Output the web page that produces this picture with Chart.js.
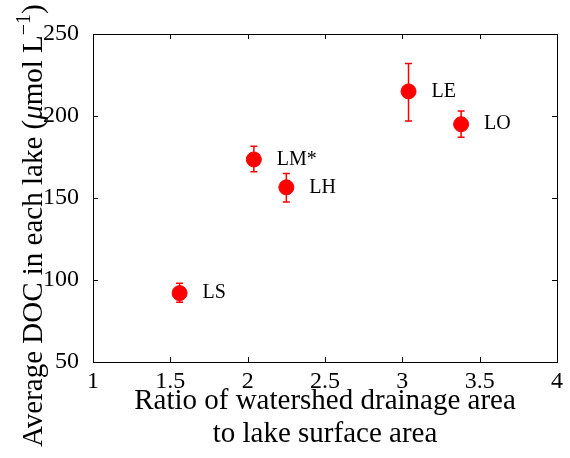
<!DOCTYPE html>
<html>
<head>
<meta charset="utf-8">
<script src="https://cdn.jsdelivr.net/npm/chart.js@4"></script>
<style>
  html, body { margin: 0; padding: 0; background: #fff; }
  #wrap { width: 570px; height: 458px; }
</style>
</head>
<body>
<div id="wrap"><canvas id="chart"></canvas></div>
<script>
// lake names and values
const lakes = ['LS', 'LM*', 'LH', 'LE', 'LO'];
const ratio = [1.56, 2.04, 2.25, 3.04, 3.38];
const doc = [92, 173.5, 156.5, 215, 195];
const docLow = [86.5, 166, 147.5, 197, 187];
const docHigh = [98, 181.5, 165, 232, 203];
const xTicks = [1, 1.5, 2, 2.5, 3, 3.5, 4];
const yTicks = [50, 100, 150, 200, 250];

const serif = "'Liberation Serif', 'DejaVu Serif', serif";

// frame and inward ticks, like the matlab box
const framePlugin = {
    id: 'frame',
    afterDraw(chart) {
        const { ctx, chartArea: a, scales } = chart;
        ctx.save();
        ctx.strokeStyle = '#000';
        ctx.lineWidth = 1;
        ctx.strokeRect(a.left + 0.5, a.top + 0.5, a.right - a.left, a.bottom - a.top);
        const len = 5;
        ctx.beginPath();
        xTicks.forEach(v => {
            const x = Math.round(scales.x.getPixelForValue(v)) + 0.5;
            ctx.moveTo(x, a.bottom); ctx.lineTo(x, a.bottom - len);
            ctx.moveTo(x, a.top); ctx.lineTo(x, a.top + len);
        });
        yTicks.forEach(v => {
            const y = Math.round(scales.y.getPixelForValue(v)) + 0.5;
            ctx.moveTo(a.left, y); ctx.lineTo(a.left + len, y);
            ctx.moveTo(a.right, y); ctx.lineTo(a.right - len, y);
        });
        ctx.stroke();
        ctx.restore();
    }
};

// y title with italic mu and superscript, drawn by hand
const yTitlePlugin = {
    id: 'yTitle',
    afterDraw(chart) {
        const ctx = chart.ctx;
        const parts = [
            { t: 'Average DOC in each lake (', f: '29px ' + serif, dy: 0 },
            { t: '\u03bc', f: 'italic 29px ' + serif, dy: 0 },
            { t: 'mol L', f: '29px ' + serif, dy: 0 },
            { t: '\u22121', f: '20px ' + serif, dy: -12 },
            { t: ')', f: '29px ' + serif, dy: 0 }
        ];
        ctx.save();
        ctx.translate(42, 447);
        ctx.rotate(-Math.PI / 2);
        ctx.fillStyle = '#000';
        ctx.textBaseline = 'alphabetic';
        ctx.textAlign = 'left';
        let x = 0;
        parts.forEach(p => {
            ctx.font = p.f;
            ctx.fillText(p.t, x, p.dy);
            x += ctx.measureText(p.t).width;
        });
        ctx.restore();
    }
};

// error bars and lake names
const errorPlugin = {
    id: 'errors',
    beforeDatasetsDraw(chart) {
        const { ctx, scales } = chart;
        ctx.save();
        ctx.strokeStyle = '#ff0000';
        ctx.lineWidth = 1.5;
        for (let i = 0; i < ratio.length; i++) {
            const x = scales.x.getPixelForValue(ratio[i]);
            const y1 = scales.y.getPixelForValue(docLow[i]);
            const y2 = scales.y.getPixelForValue(docHigh[i]);
            ctx.beginPath();
            ctx.moveTo(x, y1); ctx.lineTo(x, y2);
            ctx.moveTo(x - 3.5, y1); ctx.lineTo(x + 3.5, y1);
            ctx.moveTo(x - 3.5, y2); ctx.lineTo(x + 3.5, y2);
            ctx.stroke();
        }
        ctx.restore();
    },
    afterDatasetsDraw(chart) {
        const { ctx, scales } = chart;
        ctx.save();
        ctx.fillStyle = '#000';
        ctx.font = '20px ' + serif;
        ctx.textBaseline = 'middle';
        ctx.textAlign = 'left';
        for (let i = 0; i < ratio.length; i++) {
            const x = scales.x.getPixelForValue(ratio[i]);
            const y = scales.y.getPixelForValue(doc[i]);
            ctx.fillText(lakes[i], x + 23, y);
        }
        ctx.restore();
    }
};

new Chart(document.getElementById('chart').getContext('2d'), {
    type: 'scatter',
    data: {
        datasets: [{
            data: ratio.map((r, i) => ({ x: r, y: doc[i] })),
            backgroundColor: '#ff0000',
            borderColor: '#ff0000',
            pointRadius: 7.5,
            pointHoverRadius: 7.5
        }]
    },
    options: {
        responsive: true,
        maintainAspectRatio: false,
        animation: false,
        events: [],
        layout: { padding: { top: 34, right: 13, left: 0, bottom: 0 } },
        plugins: { legend: { display: false }, tooltip: { enabled: false } },
        scales: {
            x: {
                type: 'linear',
                min: 1, max: 4,
                grid: { display: false },
                border: { display: false },
                afterBuildTicks: s => { s.ticks = xTicks.map(v => ({ value: v })); },
                afterFit: s => { s.height = 96; },
                ticks: {
                    color: '#000',
                    padding: -3,
                    maxRotation: 0,
                    font: { family: serif, size: 24 },
                    callback: v => String(v)
                },
                title: {
                    display: true,
                    text: ['Ratio of watershed drainage area', 'to lake surface area'],
                    color: '#000',
                    font: { family: serif, size: 29, lineHeight: 1.14 },
                    padding: { top: 0, bottom: 7 }
                }
            },
            y: {
                type: 'linear',
                min: 50, max: 250,
                grid: { display: false },
                border: { display: false },
                afterBuildTicks: s => { s.ticks = yTicks.map(v => ({ value: v })); },
                afterFit: s => { s.width = 93; },
                ticks: {
                    color: '#000',
                    padding: 6,
                    font: { family: serif, size: 24 },
                    callback: v => String(v)
                }
            }
        }
    },
    plugins: [framePlugin, errorPlugin, yTitlePlugin]
});
</script>
</body>
</html>
